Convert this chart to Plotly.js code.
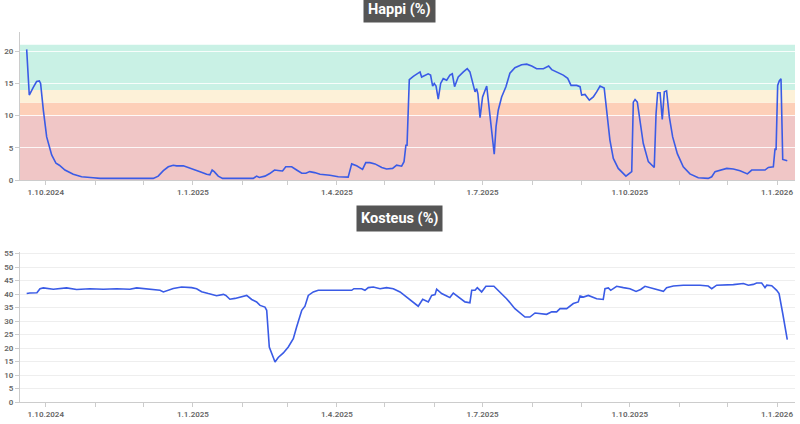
<!DOCTYPE html>
<html>
<head>
<meta charset="utf-8">
<script src="https://cdn.plot.ly/plotly-3.0.1.min.js"></script>
<style>html,body{margin:0;padding:0;background:#fff;}#chart{width:800px;height:424px;}</style>
</head>
<body>
<div id="chart"></div>
<script>
// Happi (%) series
const phDates = [
'2024-09-19 02:00','2024-09-20 17:00','2024-09-23 05:00','2024-09-25 07:00','2024-09-27 00:00','2024-09-27 19:00','2024-09-29 12:00','2024-10-01 14:00','2024-10-04 17:00','2024-10-07 10:00',
'2024-10-09 12:00','2024-10-13 00:00','2024-10-18 05:00','2024-10-23 10:00','2024-10-30 17:00','2024-11-04 00:00','2024-12-07 05:00','2024-12-10 07:00','2024-12-13 12:00','2024-12-16 14:00',
'2024-12-19 17:00','2024-12-21 19:00','2024-12-26 00:00','2024-12-31 05:00','2025-01-05 10:00','2025-01-09 14:00','2025-01-11 14:00','2025-01-13 00:00','2025-01-14 07:00','2025-01-16 19:00',
'2025-01-19 12:00','2025-02-07 17:00','2025-02-09 19:00','2025-02-11 10:00','2025-02-15 00:00','2025-02-18 00:00','2025-02-21 00:00','2025-02-24 10:00','2025-02-26 00:00','2025-02-28 00:00',
'2025-03-03 17:00','2025-03-06 19:00','2025-03-10 00:00','2025-03-12 14:00','2025-03-15 00:00','2025-03-18 00:00','2025-03-21 10:00','2025-03-27 14:00','2025-04-01 19:00','2025-04-08 00:00',
'2025-04-10 05:00','2025-04-13 07:00','2025-04-17 00:00','2025-04-19 00:00','2025-04-21 14:00','2025-04-24 19:00','2025-04-29 00:00','2025-05-02 00:00','2025-05-05 19:00','2025-05-08 07:00',
'2025-05-11 10:00','2025-05-12 22:00','2025-05-14 02:00','2025-05-14 19:00','2025-05-16 05:00','2025-05-18 17:00','2025-05-22 22:00','2025-05-23 22:00','2025-05-28 00:00','2025-05-29 12:00',
'2025-05-30 19:00','2025-05-31 19:00','2025-06-01 22:00','2025-06-03 07:00','2025-06-04 19:00','2025-06-06 10:00','2025-06-08 14:00','2025-06-10 14:00','2025-06-12 02:00','2025-06-13 12:00',
'2025-06-15 19:00','2025-06-19 00:00','2025-06-21 10:00','2025-06-23 02:00','2025-06-24 19:00','2025-06-26 07:00','2025-06-27 07:00','2025-06-28 02:00','2025-06-29 10:00','2025-07-01 00:00',
'2025-07-03 14:00','2025-07-05 05:00','2025-07-06 22:00','2025-07-08 07:00','2025-07-09 10:00','2025-07-10 19:00','2025-07-12 22:00','2025-07-15 14:00','2025-07-18 02:00','2025-07-21 05:00',
'2025-07-25 10:00','2025-07-28 14:00','2025-07-31 17:00','2025-08-03 19:00','2025-08-08 00:00','2025-08-11 07:00','2025-08-13 05:00','2025-08-16 07:00','2025-08-20 10:00','2025-08-23 05:00',
'2025-08-25 07:00','2025-08-28 19:00','2025-08-30 22:00','2025-08-31 22:00','2025-09-03 00:00','2025-09-05 17:00','2025-09-08 05:00','2025-09-10 07:00','2025-09-12 10:00','2025-09-15 00:00',
'2025-09-16 14:00','2025-09-18 14:00','2025-09-20 17:00','2025-09-23 19:00','2025-09-28 14:00','2025-10-02 05:00','2025-10-03 05:00','2025-10-04 07:00','2025-10-05 17:00','2025-10-07 10:00',
'2025-10-09 10:00','2025-10-12 14:00','2025-10-16 07:00','2025-10-17 10:00','2025-10-18 10:00','2025-10-19 22:00','2025-10-21 07:00','2025-10-22 14:00','2025-10-24 00:00','2025-10-25 17:00',
'2025-10-27 19:00','2025-10-30 17:00','2025-11-03 10:00','2025-11-07 14:00','2025-11-12 19:00','2025-11-19 00:00','2025-11-21 05:00','2025-11-23 07:00','2025-11-26 10:00','2025-11-30 14:00',
'2025-12-04 17:00','2025-12-08 22:00','2025-12-13 12:00','2025-12-16 05:00','2025-12-24 12:00','2025-12-26 14:00','2025-12-29 17:00','2025-12-30 19:00','2025-12-31 10:00','2026-01-01 10:00',
'2026-01-02 10:00','2026-01-03 12:00','2026-01-04 14:00','2026-01-07 10:00'
];
const phValues = [
20.3,13.2,14.4,15.3,15.4,15.0,10.85,6.7,3.9,2.6,
2.3,1.55,0.9,0.5,0.35,0.25,0.25,0.6,1.45,2.05,
2.3,2.2,2.2,1.8,1.3,0.9,0.8,1.55,1.3,0.6,
0.25,0.25,0.6,0.4,0.6,1.0,1.55,1.45,1.4,2.05,
2.05,1.55,1.05,1.05,1.3,1.15,0.9,0.75,0.5,0.45,
2.5,2.2,1.65,2.7,2.7,2.5,1.95,1.7,1.8,2.3,
2.15,2.85,5.4,5.4,15.6,16.1,16.8,16.0,16.5,16.3,
14.6,15.0,14.6,12.55,15.0,15.75,15.5,16.3,16.5,14.5,
16.0,16.8,17.3,16.8,15.0,13.7,14.2,13.4,9.7,12.9,
14.6,10.85,6.7,4.0,8.3,10.85,12.9,14.5,16.6,17.45,
17.9,18.0,17.7,17.3,17.3,17.7,17.15,16.8,16.3,15.8,
14.7,14.7,14.5,13.2,13.3,12.4,12.9,13.7,14.6,14.3,
10.85,6.2,3.35,1.8,0.6,1.3,12.1,12.5,12.1,8.8,
5.7,2.85,1.95,10.3,13.55,13.55,9.4,13.7,13.85,9.8,
6.7,4.1,2.05,0.95,0.35,0.25,0.5,1.3,1.55,1.8,
1.7,1.45,0.95,1.55,1.55,1.95,2.05,4.9,4.65,14.7,
15.4,15.75,3.2,3.0
];

// Kosteus (%) series
const rhDates = [
'2024-09-19 02:00','2024-09-21 02:00','2024-09-25 12:00','2024-09-27 10:00','2024-09-29 12:00','2024-10-05 17:00','2024-10-14 00:00','2024-10-20 07:00','2024-10-28 14:00','2024-11-06 00:00',
'2024-11-14 07:00','2024-11-22 14:00','2024-11-26 19:00','2024-12-04 02:00','2024-12-11 10:00','2024-12-13 12:00','2024-12-16 14:00','2024-12-19 17:00','2024-12-24 22:00','2024-12-31 05:00',
'2025-01-03 07:00','2025-01-06 10:00','2025-01-10 14:00','2025-01-15 19:00','2025-01-20 00:00','2025-01-21 14:00','2025-01-24 02:00','2025-01-27 07:00','2025-02-03 14:00','2025-02-04 14:00',
'2025-02-06 17:00','2025-02-09 19:00','2025-02-11 22:00','2025-02-15 00:00','2025-02-16 02:00','2025-02-17 17:00','2025-02-19 05:00','2025-02-21 07:00','2025-02-23 07:00','2025-02-26 12:00',
'2025-03-01 14:00','2025-03-04 17:00','2025-03-06 19:00','2025-03-10 00:00','2025-03-12 00:00','2025-03-14 02:00','2025-03-17 05:00','2025-03-20 07:00','2025-03-29 17:00','2025-04-10 05:00',
'2025-04-11 14:00','2025-04-16 10:00','2025-04-18 12:00','2025-04-20 14:00','2025-04-23 17:00','2025-04-27 22:00','2025-05-02 00:00','2025-05-06 05:00','2025-05-10 10:00','2025-05-14 14:00',
'2025-05-18 17:00','2025-05-21 19:00','2025-05-24 14:00','2025-05-28 02:00','2025-05-30 05:00','2025-06-01 07:00','2025-06-02 07:00','2025-06-05 10:00','2025-06-08 14:00','2025-06-10 14:00',
'2025-06-12 17:00','2025-06-15 19:00','2025-06-20 00:00','2025-06-23 02:00','2025-06-24 05:00','2025-06-26 07:00','2025-06-27 17:00','2025-06-30 10:00','2025-07-03 02:00','2025-07-08 02:00',
'2025-07-11 22:00','2025-07-16 00:00','2025-07-21 05:00','2025-07-27 12:00','2025-07-30 14:00','2025-08-02 19:00','2025-08-10 00:00','2025-08-13 05:00','2025-08-16 07:00','2025-08-18 10:00',
'2025-08-22 14:00','2025-08-26 17:00','2025-08-29 19:00','2025-08-30 22:00','2025-09-02 00:00','2025-09-05 02:00','2025-09-10 07:00','2025-09-14 10:00','2025-09-15 12:00','2025-09-17 14:00',
'2025-09-19 02:00','2025-09-22 19:00','2025-09-27 00:00','2025-10-01 02:00','2025-10-04 22:00','2025-10-07 19:00','2025-10-10 12:00','2025-10-15 17:00','2025-10-22 00:00','2025-10-24 00:00',
'2025-10-28 05:00','2025-11-03 10:00','2025-11-13 22:00','2025-11-19 00:00','2025-11-21 05:00','2025-11-24 07:00','2025-12-04 17:00','2025-12-11 00:00','2025-12-14 02:00','2025-12-17 05:00',
'2025-12-19 07:00','2025-12-22 10:00','2025-12-24 12:00','2025-12-25 14:00','2025-12-28 17:00','2025-12-31 19:00','2026-01-02 07:00','2026-01-04 14:00','2026-01-07 10:00'
];
const rhValues = [
40.2,40.4,40.5,42.0,42.3,41.8,42.3,41.7,42.0,41.8,
42.0,41.8,42.3,41.8,41.4,40.8,41.4,42.1,42.6,42.4,
42.0,40.9,40.2,39.4,39.9,39.5,38.1,38.4,39.5,38.9,
38.0,37.1,35.8,35.2,34.0,20.4,17.9,14.8,16.5,18.2,
20.4,23.5,27.8,34.0,35.5,39.5,40.8,41.4,41.4,41.4,
42.0,42.0,41.4,42.4,42.6,42.0,42.4,42.0,40.8,38.9,
37.1,35.5,38.1,37.1,39.5,39.8,41.8,40.2,39.3,38.7,
40.4,38.9,37.1,36.8,41.4,41.4,42.4,40.8,42.9,42.9,
40.8,38.3,34.6,31.5,31.5,33.0,32.5,33.4,33.4,34.6,
34.6,36.5,37.1,39.3,38.9,39.5,38.3,38.0,42.0,42.3,
41.4,42.9,42.4,42.0,41.0,41.7,42.9,42.0,41.0,42.4,
43.0,43.3,43.3,43.0,42.0,43.3,43.5,43.9,43.3,43.6,
44.1,44.1,42.4,43.3,43.1,41.4,40.2,32.8,23.1
];

// Axis ticks
const monthTicks = ['2024-10-01','2024-11-01','2024-12-01','2025-01-01','2025-02-01','2025-03-01','2025-04-01','2025-05-01','2025-06-01','2025-07-01','2025-08-01','2025-09-01','2025-10-01','2025-11-01','2025-12-01','2026-01-01'];
const monthLabels = ['1.10.2024','','','1.1.2025','','','1.4.2025','','','1.7.2025','','','1.10.2025','','','1.1.2026'];
const phTicks = [0,5,10,15,20];
const rhTicks = [0,5,10,15,20,25,30,35,40,45,50,55];

// pH bands [from, to, colour]
const bandLow = [0,10,12,14];
const bandHigh = [10,12,14,21];
const bandColors = ['#f0c6c6','#fdcfb8','#fdf1d8','#c9f1e5'];

const xRange = ['2024-09-14 22:00','2026-01-12 06:00'];
const lineColor = '#3a5be6';
const tickFont = {family:'Roboto, sans-serif', size:8, color:'#666', weight:600};

const traces = [
  {x: phDates, y: phValues, type:'scatter', mode:'lines', xaxis:'x', yaxis:'y',
   line:{color:lineColor, width:1.6}, hoverinfo:'skip'},
  {x: rhDates, y: rhValues, type:'scatter', mode:'lines', xaxis:'x2', yaxis:'y2',
   line:{color:lineColor, width:1.6}, hoverinfo:'skip'}
];

const shapes = bandLow.map((lo,i)=>({
  type:'rect', xref:'x domain', yref:'y', x0:0, x1:1, y0:lo, y1:bandHigh[i],
  fillcolor:bandColors[i], line:{width:0}, layer:'below'
}));

const xCommon = {
  type:'date', range:xRange, tickmode:'array', tickvals:monthTicks, ticktext:monthLabels,
  ticks:'outside', ticklen:4, tickcolor:'#ccc', showline:true, linecolor:'#ccc', linewidth:1,
  showgrid:false, zeroline:false, tickfont:tickFont, automargin:false, fixedrange:true
};

const layout = {
  width:800, height:424,
  margin:{l:20, r:5, t:32, b:22},
  paper_bgcolor:'#fff', plot_bgcolor:'rgba(0,0,0,0)',
  showlegend:false,
  font:{family:'Roboto, sans-serif'},
  xaxis: Object.assign({}, xCommon, {anchor:'y'}),
  xaxis2: Object.assign({}, xCommon, {anchor:'y2'}),
  yaxis: {domain:[0.6,1], range:[0,23], tickmode:'array', tickvals:phTicks,
    ticks:'outside', ticklen:4, tickcolor:'#ccc', showline:true, linecolor:'#ccc',
    showgrid:true, gridcolor:'rgba(255,255,255,0.85)', gridwidth:1, zeroline:false,
    tickfont:tickFont, automargin:false, fixedrange:true, anchor:'x'},
  yaxis2: {domain:[0,0.4054], range:[0,55.6], tickmode:'array', tickvals:rhTicks,
    ticks:'outside', ticklen:4, tickcolor:'#ccc', showline:true, linecolor:'#ccc',
    showgrid:true, gridcolor:'#eeeeee', gridwidth:1, zeroline:false,
    tickfont:tickFont, automargin:false, fixedrange:true, anchor:'x2'},
  shapes: shapes,
  annotations: [
    {text:'<b>Happi (%)</b>', xref:'paper', yref:'paper', x:0.4903, y:1.0595,
     showarrow:false, bgcolor:'#555555', borderpad:4, xanchor:'center', yanchor:'middle',
     font:{family:'Roboto, sans-serif', size:14.5, color:'#fff'}},
    {text:'<b>Kosteus (%)</b>', xref:'paper', yref:'paper', x:0.4903, y:0.497,
     showarrow:false, bgcolor:'#555555', borderpad:4, xanchor:'center', yanchor:'middle',
     font:{family:'Roboto, sans-serif', size:14.5, color:'#fff'}}
  ]
};

Plotly.newPlot('chart', traces, layout, {displayModeBar:false, staticPlot:true});
</script>
</body>
</html>
